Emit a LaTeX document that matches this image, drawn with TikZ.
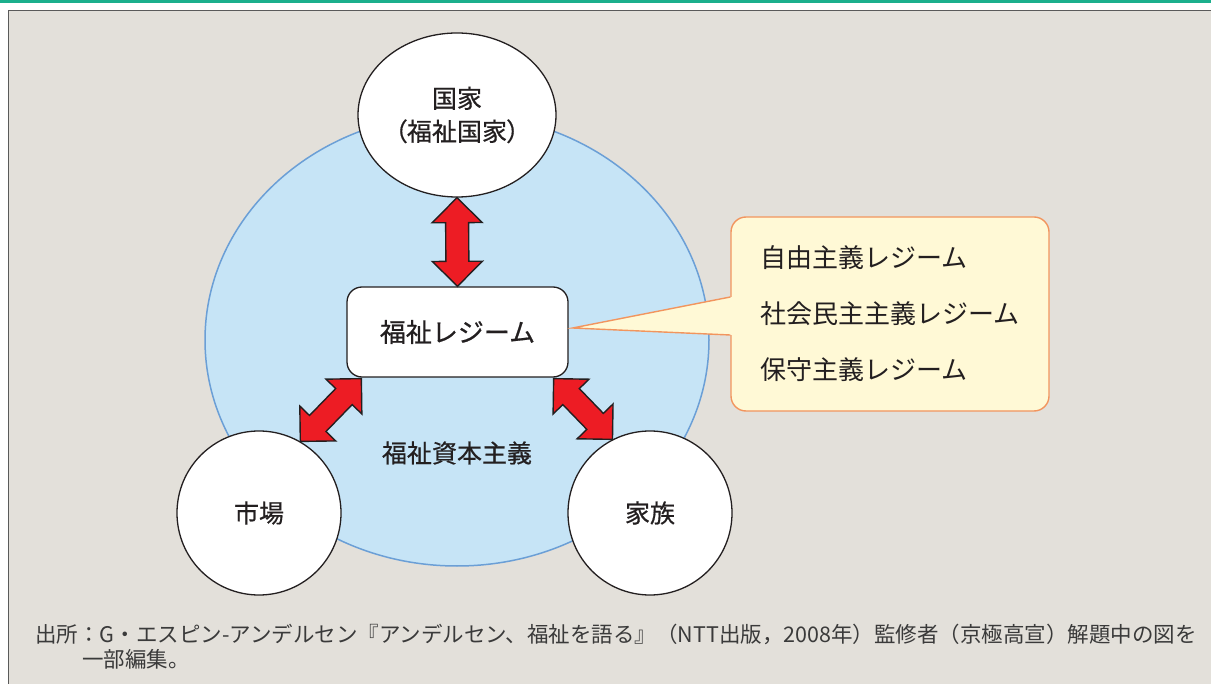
\documentclass[tikz,border=0pt]{standalone}
\usepackage{fontspec}
\setmainfont{Noto Sans CJK JP}
\newfontfamily\jpmed[FakeBold=0.6]{Noto Sans CJK JP}
\usetikzlibrary{calc,shapes.geometric}
\definecolor{bggray}{HTML}{E3E0DA}
\definecolor{framec}{HTML}{5A5A5A}
\definecolor{topgreen}{HTML}{1BAF8C}
\definecolor{worldfill}{HTML}{C6E4F6}
\definecolor{worldline}{HTML}{6B9FD6}
\definecolor{callfill}{HTML}{FFF9D6}
\definecolor{callline}{HTML}{F2955E}
\definecolor{arrred}{HTML}{ED1C24}
\definecolor{inkc}{HTML}{231F20}
\definecolor{notec}{HTML}{3A3A3A}
\newcommand\fatarrow[2]{%
  \draw[fatarr] (#1) -- ($(#1)!35.36pt!45:(#2)$) -- ($(#1)!27.52pt!24.70:(#2)$)
    -- ($(#2)!27.52pt!-24.70:(#1)$) -- ($(#2)!35.36pt!-45:(#1)$) -- (#2)
    -- ($(#2)!35.36pt!45:(#1)$) -- ($(#2)!27.52pt!24.70:(#1)$)
    -- ($(#1)!27.52pt!-24.70:(#2)$) -- ($(#1)!35.36pt!-45:(#2)$) -- cycle;}
\begin{document}
\begin{tikzpicture}[x=1pt,y=-1pt,
  fatarr/.style={fill=arrred, draw=inkc, line width=1.4pt, line join=miter},
  bigcirc/.style={circle, draw=inkc, line width=1.3pt, fill=white, minimum size=164pt, inner sep=0pt,
    text=inkc, font=\jpmed\fontsize{25}{33}\selectfont},
  calltext/.style={anchor=west, inner sep=0pt, text=inkc, font=\fontsize{26}{30}\selectfont},
  notetext/.style={anchor=west, inner sep=0pt, text=notec, font=\fontsize{21.5}{25}\selectfont}]
\useasboundingbox (0,0) rectangle (1211,684);
\fill[white] (0,0) rectangle (1211,684);
\fill[topgreen] (0,0) rectangle (1211,3);
\fill[bggray] (8.5,10.5) rectangle (1211,684);
\draw[framec, line width=1.5pt] (8.5,684) -- (8.5,10.5) -- (1211,10.5);
% welfare capitalism world
\node[ellipse, draw=worldline, line width=1.5pt, fill=worldfill, minimum width=504pt, minimum height=452pt, inner sep=0pt] (world) at (457,340) {};
\node[inner sep=0pt, text=inkc, font=\jpmed\fontsize{25}{30}\selectfont] (wcap) at (457,453) {福祉資本主義};
% nodes
\node[ellipse, draw=inkc, line width=1.3pt, fill=white, minimum width=198pt, minimum height=164pt, inner sep=0pt,
  text=inkc, align=center, font=\jpmed\fontsize{25}{33}\selectfont] (kokka) at (457,115)
  {国家\\{\addfontfeature{RawFeature=+palt}（福祉国家）}};
\node[draw=inkc, line width=1.3pt, fill=white, rounded corners=15pt, minimum width=221pt, minimum height=90pt,
  inner sep=0pt, text=inkc, font=\jpmed\fontsize{26}{30}\selectfont] (regime) at (457.5,332) {福祉レジーム};
\node[bigcirc] (shijo) at (259,513) {市場};
\node[bigcirc] (kazoku) at (650,513) {家族};
% callout
\node[draw=callline, line width=1.4pt, fill=callfill, rounded corners=15pt, minimum width=318pt, minimum height=194pt,
  inner sep=0pt] (bubble) at (890,314) {};
\coordinate (tip) at ($(regime.east)+(4,-4)$);
\coordinate (ptop) at ($(bubble.west)+(0,-17)$);
\coordinate (pbot) at ($(bubble.west)+(0,21)$);
\fill[callfill] (tip) -- ($(ptop)+(2,0)$) -- ($(pbot)+(2,0)$) -- cycle;
\draw[callline, line width=1.4pt, line join=miter] (ptop) -- (tip) -- (pbot);
\node[calltext] (lib) at (760,258) {自由主義レジーム};
\node[calltext] (soc) at (760,314) {社会民主主義レジーム};
\node[calltext] (con) at (760,370) {保守主義レジーム};
% arrows
\coordinate (a2s) at ($(regime.south west)+(15,1)$);
\coordinate (a3s) at ($(regime.south east)+(-15,1)$);
\fatarrow{kokka.south}{regime.north}
\fatarrow{a2s}{shijo.60}
\fatarrow{a3s}{kazoku.117}
% source note
\node[notetext] (note1) at (35,634) {出所：G・エスピン-アンデルセン『アンデルセン、福祉を語る』（NTT出版，2008年）監修者（京極高宣）解題中の図を};
\node[notetext] (note2) at (82,659) {一部編集。};
\end{tikzpicture}
\end{document}
